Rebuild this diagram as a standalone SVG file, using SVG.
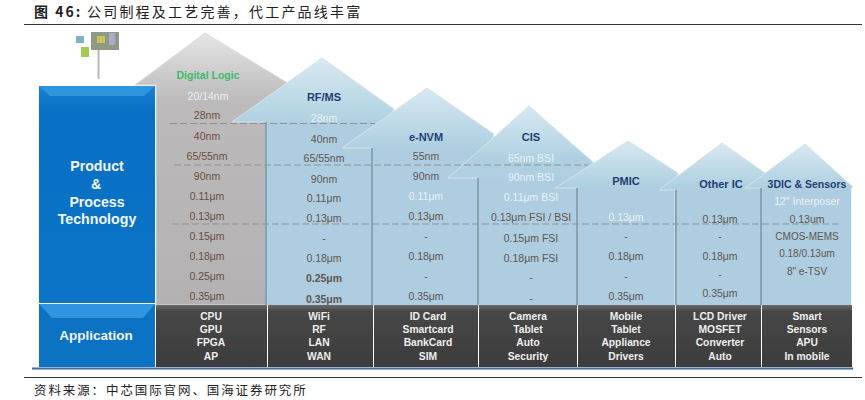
<svg xmlns="http://www.w3.org/2000/svg" width="865" height="400" viewBox="0 0 865 400">
<style>
text{font-family:"Liberation Sans",Arial,sans-serif;text-anchor:middle}
.cap{font-family:"Noto Sans CJK SC","Liberation Sans",sans-serif;text-anchor:start;fill:#222}
.t{font-size:10.5px;fill:#5f5650}
.b{fill:#6a4f42}
.w{fill:#e9f1f5}
.h{font-size:11px;font-weight:bold;fill:#1f3f73}
.a{font-size:10.3px;font-weight:bold;fill:#eeeeee}
.m{font-size:14.2px;font-weight:bold;fill:#f2f7fb}
.d{fill:none;stroke:#8f9192;stroke-width:1;stroke-dasharray:7 3}
.roof{fill:url(#roofB);stroke:#d4e3ea;stroke-width:1}
.body{fill:#aecde0}
.sh{fill:#8aa3b3}
.bar{fill:url(#dark)}
</style>
<defs>
<linearGradient id="roofB" x1="0" y1="0" x2="0" y2="1"><stop offset="0" stop-color="#d8e9f1"/><stop offset="0.27" stop-color="#aed0e1"/><stop offset="1" stop-color="#aecde0"/></linearGradient>
<linearGradient id="roofG" x1="0" y1="0" x2="0" y2="1"><stop offset="0" stop-color="#e6e6e6"/><stop offset="0.25" stop-color="#bcbaba"/><stop offset="1" stop-color="#b3b1b1"/></linearGradient>
<linearGradient id="blue" x1="0" y1="0" x2="0" y2="1"><stop offset="0" stop-color="#1481d2"/><stop offset="0.12" stop-color="#0870c4"/><stop offset="1" stop-color="#0c74c6"/></linearGradient>
<linearGradient id="dark" x1="0" y1="0" x2="0" y2="1"><stop offset="0" stop-color="#6a6a6a"/><stop offset="0.1" stop-color="#474747"/><stop offset="1" stop-color="#3c3c3c"/></linearGradient>
</defs>
<text class="cap" x="34" y="17" style="font-size:14px;font-weight:bold;letter-spacing:2px">图 46:</text>
<text class="cap" x="87" y="17" style="font-size:14px;letter-spacing:2.2px">公司制程及工艺完善，代工产品线丰富</text>
<line x1="24" y1="24.500" x2="862" y2="24.500" stroke="#333" stroke-width="1"/>
<g id="icon">
<rect x="76" y="36" width="8" height="7" fill="#7fb2c8"/>
<rect x="81" y="47" width="8" height="10" fill="#a4c850"/>
<rect x="91" y="32" width="28" height="18" fill="#8f9a86"/>
<rect x="97" y="36" width="8" height="7" fill="#c9c45a"/>
<rect x="109" y="33" width="6" height="12" fill="#b0a9c9"/>
<line x1="98.500" y1="50" x2="98.500" y2="79" stroke="#b8b8b8" stroke-width="2"/>
</g>
<g id="node-digital-logic">
<polygon points="205,33 135,85 156,85 156,305 267,305 267,122 296,88" fill="url(#roofG)" stroke="#dddddd"/>
<text x="208" y="79" style="font-size:10.500px;font-weight:bold;fill:#3dbb6a">Digital Logic</text>
<text class="t w" x="208" y="100">20/14nm</text>
<text class="t b" x="207" y="119">28nm</text>
<text class="t b" x="207" y="140">40nm</text>
<text class="t b" x="207" y="160">65/55nm</text>
<text class="t b" x="207" y="180">90nm</text>
<text class="t b" x="207" y="200">0.11μm</text>
<text class="t b" x="207" y="220">0.13μm</text>
<text class="t b" x="207" y="240">0.15μm</text>
<text class="t b" x="207" y="260">0.18μm</text>
<text class="t b" x="207" y="280">0.25μm</text>
<text class="t b" x="207" y="300">0.35μm</text>
</g>
<g id="node-rf-ms">
<polygon class="roof" points="322,58 232,122 266,122 266,305 373,305 373,148 394,109"/>
<rect class="body" x="268" y="122" width="105" height="183"/>
<rect class="sh" x="265" y="122" width="2" height="183"/>
<text class="h" x="324" y="101">RF/MS</text>
<text class="t w" x="324" y="122">28nm</text>
<text class="t" x="324" y="143">40nm</text>
<text class="t" x="324" y="162">65/55nm</text>
<text class="t" x="324" y="183">90nm</text>
<text class="t" x="324" y="202">0.11μm</text>
<text class="t" x="324" y="222">0.13μm</text>
<text class="t" x="324" y="242">-</text>
<text class="t" x="324" y="262">0.18μm</text>
<text class="t" x="324" y="282" style="font-weight:bold">0.25μm</text>
<text class="t" x="324" y="303" style="font-weight:bold">0.35μm</text>
</g>
<g id="node-e-nvm">
<polygon class="roof" points="427,88 342,148 372,148 372,305 478,305 478,178 494,134"/>
<rect class="body" x="374" y="148" width="104" height="157"/>
<rect class="sh" x="371" y="148" width="2" height="157"/>
<text class="h" x="426" y="141">e-NVM</text>
<text class="t" x="426" y="160">55nm</text>
<text class="t" x="426" y="180">90nm</text>
<text class="t w" x="426" y="200">0.11μm</text>
<text class="t" x="426" y="220">0.13μm</text>
<text class="t" x="426" y="240">-</text>
<text class="t" x="426" y="260">0.18μm</text>
<text class="t" x="426" y="280">-</text>
<text class="t" x="426" y="300">0.35μm</text>
</g>
<g id="node-cis">
<polygon class="roof" points="529,106 448,178 478,178 478,305 577,305 577,188 594,163"/>
<rect class="body" x="480" y="178" width="97" height="127"/>
<rect class="sh" x="477" y="178" width="2" height="127"/>
<text class="h" x="531" y="141">CIS</text>
<text class="t w" x="531" y="162">65nm BSI</text>
<text class="t w" x="531" y="181">90nm BSI</text>
<text class="t w" x="531" y="201">0.11μm BSI</text>
<text class="t" x="531" y="221">0.13μm FSI / BSI</text>
<text class="t" x="531" y="242">0.15μm FSI</text>
<text class="t" x="531" y="262">0.18μm FSI</text>
<text class="t" x="531" y="281">-</text>
<text class="t" x="531" y="302">-</text>
</g>
<g id="node-pmic">
<polygon class="roof" points="628,141 555,188 577,188 577,305 675,305 675,190 678,173"/>
<rect class="body" x="579" y="188" width="96" height="117"/>
<rect class="sh" x="576" y="188" width="2" height="117"/>
<text class="h" x="626" y="185">PMIC</text>
<text class="t w" x="626" y="221">0.13μm</text>
<text class="t" x="626" y="240">-</text>
<text class="t" x="626" y="260">0.18μm</text>
<text class="t" x="626" y="280">-</text>
<text class="t" x="626" y="300">0.35μm</text>
</g>
<g id="node-other-ic">
<polygon class="roof" points="722,143 659,190 675,190 675,305 761,305 761,188 765,173"/>
<rect class="body" x="677" y="190" width="84" height="115"/>
<rect class="sh" x="675" y="190" width="2" height="115"/>
<text class="h" x="721" y="188">Other IC</text>
<text class="t" x="720" y="223">0.13μm</text>
<text class="t" x="720" y="240">-</text>
<text class="t" x="720" y="260">0.18μm</text>
<text class="t" x="720" y="278">-</text>
<text class="t" x="720" y="297">0.35μm</text>
</g>
<g id="node-3dic-sensors">
<polygon class="roof" points="805,144 745,188 761,188 761,305 851,305 851,188 853,187"/>
<rect class="body" x="763" y="188" width="88" height="117"/>
<rect class="sh" x="760" y="188" width="2" height="117"/>
<text class="h" x="807" y="188" style="font-size:10.500px">3DIC &amp; Sensors</text>
<text class="t w" x="807" y="205">12" Interposer</text>
<text class="t" x="807" y="223">0.13um</text>
<text class="t" x="807" y="240" style="font-size:10px">CMOS-MEMS</text>
<text class="t" x="807" y="257" style="font-size:10px">0.18/0.13um</text>
<text class="t" x="807" y="275" style="font-size:10px">8" e-TSV</text>
</g>
<g id="connectors">
<line class="d" x1="170" y1="123.500" x2="375" y2="123.500"/>
<line class="d" x1="174" y1="165" x2="588" y2="165"/>
<line class="d" x1="172" y1="224" x2="838" y2="224"/>
</g>
<g id="node-product-process">
<rect x="39" y="86" width="116" height="217" fill="url(#blue)"/>
<polygon points="39,86 155,86 144,96 50,96" fill="#2f95de"/>
<text class="m" x="97" y="171">Product</text>
<text class="m" x="96" y="189">&amp;</text>
<text class="m" x="97" y="207">Process</text>
<text class="m" x="97" y="224">Technology</text>
</g>
<g id="node-application">
<rect x="39" y="304" width="116" height="63" fill="#0c72c3"/>
<polygon points="39,304 155,304 143,318 52,318" fill="#2f95de"/>
<text class="m" x="96" y="340" style="font-size:13.500px">Application</text>
</g>
<g id="application-row">
<rect class="bar" x="156" y="305" width="111" height="62"/>
<rect class="bar" x="268" y="305" width="105" height="62"/>
<rect class="bar" x="374" y="305" width="104" height="62"/>
<rect class="bar" x="479" y="305" width="98" height="62"/>
<rect class="bar" x="578" y="305" width="97" height="62"/>
<rect class="bar" x="676" y="305" width="85" height="62"/>
<rect class="bar" x="762" y="305" width="90" height="62"/>
<text class="a" x="211" y="320">CPU</text><text class="a" x="211" y="333">GPU</text><text class="a" x="211" y="346">FPGA</text><text class="a" x="211" y="360">AP</text>
<text class="a" x="319" y="320">WiFi</text><text class="a" x="319" y="333">RF</text><text class="a" x="319" y="346">LAN</text><text class="a" x="319" y="360">WAN</text>
<text class="a" x="428" y="320">ID Card</text><text class="a" x="428" y="333">Smartcard</text><text class="a" x="428" y="346">BankCard</text><text class="a" x="428" y="360">SIM</text>
<text class="a" x="528" y="320">Camera</text><text class="a" x="528" y="333">Tablet</text><text class="a" x="528" y="346">Auto</text><text class="a" x="528" y="360">Security</text>
<text class="a" x="626" y="320">Mobile</text><text class="a" x="626" y="333">Tablet</text><text class="a" x="626" y="346">Appliance</text><text class="a" x="626" y="360">Drivers</text>
<text class="a" x="720" y="320">LCD Driver</text><text class="a" x="720" y="333">MOSFET</text><text class="a" x="720" y="346">Converter</text><text class="a" x="720" y="360">Auto</text>
<text class="a" x="807" y="320">Smart</text><text class="a" x="807" y="333">Sensors</text><text class="a" x="807" y="346">APU</text><text class="a" x="807" y="360">In mobile</text>
</g>
<line x1="32" y1="368.500" x2="853" y2="368.500" stroke="#3e68a8" stroke-width="2"/>
<line x1="24" y1="377.500" x2="862" y2="377.500" stroke="#333" stroke-width="1"/>
<text class="cap" x="34" y="395" style="font-size:12.500px;letter-spacing:1.9px">资料来源：中芯国际官网、国海证券研究所</text>
</svg>
